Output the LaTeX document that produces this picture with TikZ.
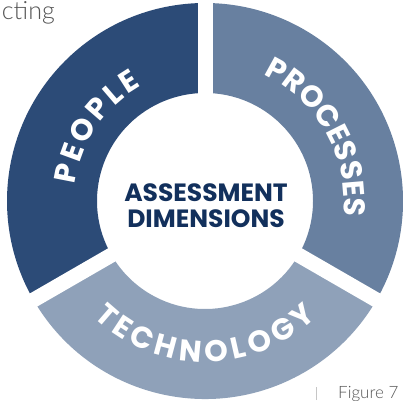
\documentclass[tikz,border=0pt]{standalone}
\usepackage{fontspec}
\setmainfont{Poppins}
\newfontfamily\thinfont{Lato Light}
\usetikzlibrary{decorations.text}

\definecolor{peopleblue}{HTML}{2C4B77}
\definecolor{processblue}{HTML}{6880A0}
\definecolor{techblue}{HTML}{8FA1B9}
\definecolor{navy}{HTML}{12305C}
\definecolor{greytext}{HTML}{555555}

\newcommand{\arcfont}{\bfseries\fontsize{30}{30}\selectfont\color{white}}

\tikzset{
	segtext/.style={decorate, decoration={text along path, text align=fit to path, text={#1}}}
}

\begin{document}
\begin{tikzpicture}[x=1pt,y=1pt]
	
	\path[use as bounding box] (0,0) rectangle (403,400);
	\clip (0,0) rectangle (403,400);
	
	\coordinate (o) at (205,199);
	
	% ring segments
	\foreach \col/\a/\b in {peopleblue/90/210, processblue/-30/90, techblue/210/330}
		\fill[\col] ([shift={(\a:198)}]o) arc[start angle=\a, end angle=\b, radius=198]
			-- ([shift={(\b:108)}]o) arc[start angle=\b, end angle=\a, radius=108] -- cycle;
	
	% gaps
	\foreach \a in {90,210,330}
		\draw[white, line width=15pt] (o) -- ++(\a:215);
	
	\path[segtext={|\arcfont|PEOPLE}] ([shift={(173:131)}]o) arc[start angle=173, end angle=119, radius=131];
	\path[segtext={|\arcfont|PROCESSES}] ([shift={(65:139)}]o) arc[start angle=65, end angle=-6, radius=139];
	\path[segtext={|\arcfont|TECHNOLOGY}] ([shift={(226:161)}]o) arc[start angle=226, end angle=314, radius=161];
	
	\node[font=\bfseries\fontsize{25}{26}\selectfont, text=navy, align=center] (centre) at (206,194) {ASSESSMENT\\DIMENSIONS};
	
	\node[font=\thinfont\fontsize{25}{25}\selectfont, text=greytext, anchor=base east, inner sep=0] (cut) at (55,380) {cting};
	\node[font=\thinfont\fontsize{17}{17}\selectfont, text=greytext, anchor=base west, inner sep=0] (figlabel) at (338,2) {Figure 7};
	\draw[gray!45, line width=0.8pt] (316,0) -- (316,13);
	
\end{tikzpicture}
\end{document}
